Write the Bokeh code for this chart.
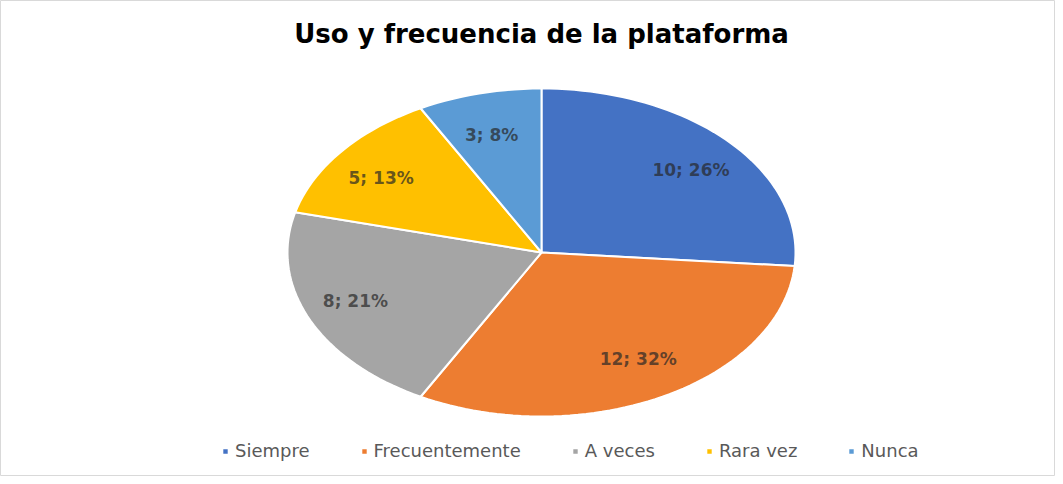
import numpy as np
from bokeh.plotting import figure
from bokeh.models import Range1d, Label, Legend, LegendItem, ColumnDataSource
from bokeh.core.properties import value
from bokeh.embed import file_html
from bokeh.resources import INLINE

# ---- data ----
title = "Uso y frecuencia de la plataforma"
categories = ["Siempre", "Frecuentemente", "A veces", "Rara vez", "Nunca"]
counts = [10, 12, 8, 5, 3]
colors = ["#4472C4", "#ED7D31", "#A5A5A5", "#FFC000", "#5B9BD5"]

# ---- layout ----
W, H = 1055, 476
cx, cy = 541, 252          # pie centre in px (from left, from top)
rx, ry = 254, 164          # ellipse radii in px

p = figure(width=W, height=H, output_backend="svg", toolbar_location=None,
           x_axis_location=None, y_axis_location=None, min_border=0,
           x_range=Range1d(-cx / rx, (W - cx) / rx),
           y_range=Range1d(-(H - cy) / ry, cy / ry))
p.grid.visible = False
p.outline_line_color = "#d9d9d9"
p.outline_line_width = 1
p.background_fill_color = "white"
p.border_fill_color = "white"

total = sum(counts)
fracs = np.array(counts) / total
cum = np.concatenate([[0], np.cumsum(fracs)])
xs, ys, lx, ly, labels = [], [], [], [], []
for i, f in enumerate(fracs):
    a0 = np.pi / 2 - 2 * np.pi * cum[i]
    a1 = np.pi / 2 - 2 * np.pi * cum[i + 1]
    n = max(8, int(200 * f))
    t = np.linspace(a0, a1, n)
    xs.append(np.concatenate([[0], np.cos(t), [0]]).tolist())
    ys.append(np.concatenate([[0], np.sin(t), [0]]).tolist())
    am = (a0 + a1) / 2
    lx.append(0.8 * np.cos(am))
    ly.append(0.74 * np.sin(am))
    labels.append(f"{counts[i]}; {round(100 * f)}%")

src = ColumnDataSource(dict(xs=xs, ys=ys, color=colors, cat=categories))
r = p.patches("xs", "ys", source=src, fill_color="color", line_color="white", line_width=2)

p.text(x=lx, y=ly, text=labels, text_align="center", text_baseline="middle",
       text_font=value("DejaVu Sans"), text_font_style="bold", text_font_size="17px",
       text_color="#262626", text_alpha=0.7)

p.add_layout(Label(x=cx, y=H - 33, x_units="screen", y_units="screen", text=title,
                   text_align="center", text_baseline="middle",
                   text_font="DejaVu Sans", text_font_style="bold",
                   text_font_size="26px", text_color="#000000"))

legend = Legend(items=[LegendItem(label=c, renderers=[r], index=i) for i, c in enumerate(categories)],
                orientation="horizontal", location=(221, 15),
                glyph_width=8, glyph_height=8, label_standoff=6, spacing=50, padding=0, margin=0,
                label_text_font="DejaVu Sans", label_text_font_size="18px",
                label_text_color="#595959", border_line_color=None, background_fill_alpha=0)
p.add_layout(legend, "center")

open("out.html", "w").write(file_html(p, INLINE))
